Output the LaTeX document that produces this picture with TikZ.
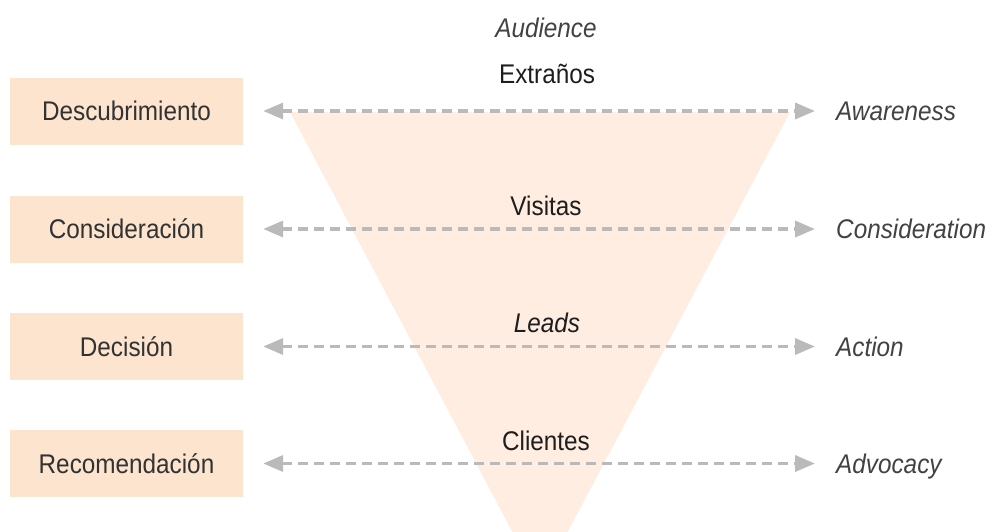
\documentclass[tikz,border=0pt]{standalone}
\usepackage{fontspec}
\setmainfont{Liberation Sans}[FakeStretch=0.9]
\usetikzlibrary{arrows.meta}
\definecolor{boxfill}{RGB}{252,228,207}
\definecolor{trifill}{RGB}{254,237,224}
\definecolor{arrgray}{RGB}{186,186,186}
\definecolor{boxtext}{RGB}{50,50,50}
\definecolor{engtext}{RGB}{66,66,66}
\definecolor{midtext}{RGB}{30,30,30}
\tikzset{
  stagebox/.style={fill=boxfill, minimum width=233pt, minimum height=67pt, inner sep=0pt,
    text height=19pt, text depth=0pt, text=boxtext, font=\fontsize{27}{30}\selectfont},
  englabel/.style={anchor=west, inner sep=0pt, text height=19pt, text depth=0pt,
    text=engtext, font=\fontsize{27}{30}\selectfont\itshape},
  midlabel/.style={anchor=base, inner sep=0pt, text=midtext, font=\fontsize{27}{30}\selectfont},
  linkarrow/.style={draw=arrgray, line width=3.5pt, dash pattern=on 10pt off 6pt,
    {Triangle[length=20pt,width=16pt]}-{Triangle[length=20pt,width=16pt]},
    shorten <=20pt, shorten >=21pt},
  funnel/.style={fill=trifill}
}
\begin{document}
\begin{tikzpicture}[x=1pt,y=-1pt]
\useasboundingbox (0,0) rectangle (992,531);
\clip (0,0) rectangle (992,531);
% funnel
\fill[funnel] (290,112) -- (790,112) -- (540,584) -- cycle;
% left stage boxes
\node[stagebox] (b1) at (126.5,111) {Descubrimiento};
\node[stagebox] (b2) at (126.5,229) {Consideración};
\node[stagebox] (b3) at (126.5,346.5) {Decisión};
\node[stagebox] (b4) at (126.5,463.5) {Recomendación};
% right labels
\node[englabel] (r1) at (836,111) {Awareness};
\node[englabel] (r2) at (836,229) {Consideration};
\node[englabel] (r3) at (836,346.5) {Action};
\node[englabel] (r4) at (836,463.5) {Advocacy};
% middle labels
\node[midlabel, font=\fontsize{27}{30}\selectfont\itshape, text=engtext] (aud) at (546,37) {Audience};
\node[midlabel] (m1) at (547,83) {Extraños};
\node[midlabel] (m2) at (546,215) {Visitas};
\node[midlabel, font=\fontsize{27}{30}\selectfont\itshape] (m3) at (547,332) {Leads};
\node[midlabel] (m4) at (546,450) {Clientes};
% arrows
\draw[linkarrow] (b1.east) -- (r1.west);
\draw[linkarrow] (b2.east) -- (r2.west);
\draw[linkarrow] (b3.east) -- (r3.west);
\draw[linkarrow] (b4.east) -- (r4.west);
\end{tikzpicture}
\end{document}
